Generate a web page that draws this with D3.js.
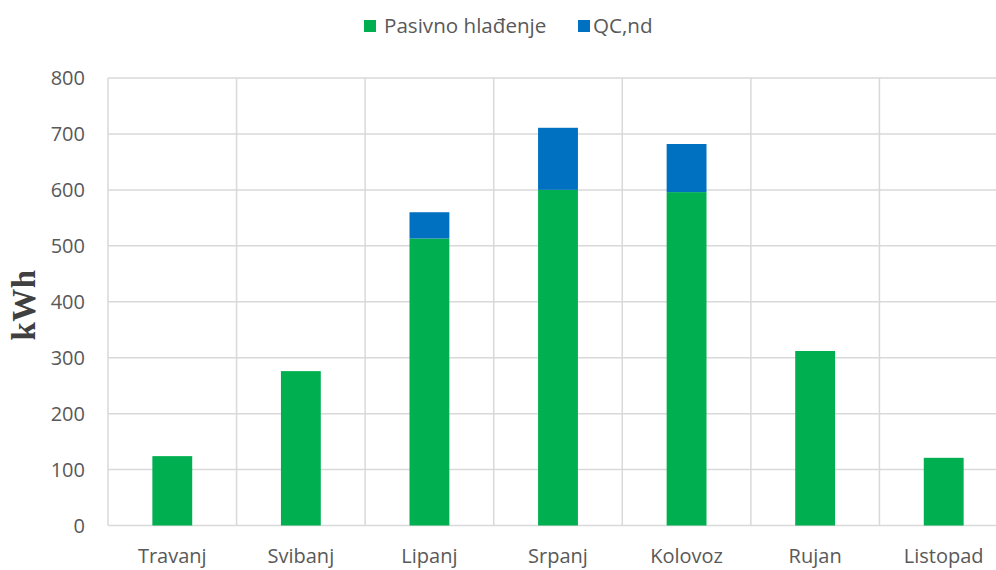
<!DOCTYPE html>
<html>
<head>
<meta charset="utf-8">
<script src="https://cdn.jsdelivr.net/npm/d3@7"></script>
<style>
  html, body { margin: 0; padding: 0; background: #fff; overflow: hidden; }
  svg { display: block; }
</style>
</head>
<body>
<svg id="chart" width="996" height="570"></svg>
<script>
const categories = ["Travanj", "Svibanj", "Lipanj", "Srpanj", "Kolovoz", "Rujan", "Listopad"];
const seriesNames = ["Pasivno hlađenje", "QC,nd"];
const pasivno = [124, 276, 513, 600, 596, 312, 121];
const qcnd = [0, 0, 47, 111, 86, 0, 0];
const yTicks = [0, 100, 200, 300, 400, 500, 600, 700, 800];
const colors = ["#00B050", "#0070C0"];
const yTitle = "kWh";

(function () {
const svg = d3.select("#chart");
const pLeft = 108, pRight = 1008, pTop = 78, pBottom = 525.5;

const x = d3.scaleBand().domain(categories).range([pLeft, pRight]).paddingInner(0.69).paddingOuter(0.345);
const xCat = d3.scaleBand().domain(categories).range([pLeft, pRight]).padding(0);
const y = d3.scaleLinear().domain([0, 800]).range([pBottom, pTop]);

const grid = "#d9d9d9";

// horizontal gridlines
svg.append("g").selectAll("line").data(yTicks).join("line")
  .attr("x1", pLeft).attr("x2", pRight)
  .attr("y1", d => y(d)).attr("y2", d => y(d))
  .attr("stroke", grid).attr("stroke-width", 1.5);

// vertical gridlines at category boundaries
const bounds = categories.map(c => xCat(c)).concat([xCat(categories[categories.length - 1]) + xCat.bandwidth()]);
svg.append("g").selectAll("line").data(bounds).join("line")
  .attr("x1", d => d).attr("x2", d => d)
  .attr("y1", pTop).attr("y2", pBottom)
  .attr("stroke", grid).attr("stroke-width", 1.5);

// stacked bars
const rows = categories.map((c, i) => ({ cat: c, p: pasivno[i], q: qcnd[i] }));
const stack = d3.stack().keys(["p", "q"])(rows);
svg.append("g").selectAll("g").data(stack).join("g")
  .attr("fill", (d, i) => colors[i])
  .selectAll("rect").data(d => d.filter(s => s[1] - s[0] > 0)).join("rect")
  .attr("x", d => x(d.data.cat))
  .attr("width", x.bandwidth())
  .attr("y", d => y(d[1]))
  .attr("height", d => y(d[0]) - y(d[1]));

// y tick labels
const font = "'Open Sans', sans-serif";
svg.append("g").selectAll("text").data(yTicks).join("text")
  .attr("x", 85).attr("y", d => y(d)).attr("dy", "0.35em")
  .attr("text-anchor", "end")
  .attr("font-family", font).attr("font-size", 20).attr("fill", "#595959")
  .text(d => d);

// x labels
svg.append("g").selectAll("text").data(categories).join("text")
  .attr("x", d => xCat(d) + xCat.bandwidth() / 2).attr("y", 556).attr("dy", "0.35em")
  .attr("text-anchor", "middle")
  .attr("font-family", font).attr("font-size", 20).attr("fill", "#595959")
  .text(d => d);

// y axis title
svg.append("text")
  .attr("transform", "translate(35,305) rotate(-90)")
  .attr("text-anchor", "middle")
  .attr("font-family", "'Liberation Serif', 'Times New Roman', serif")
  .attr("font-weight", "bold").attr("font-size", 33).attr("fill", "#404040")
  .attr("letter-spacing", 0.5)
  .text(yTitle);

// legend
const legendItems = [
  { name: seriesNames[0], color: colors[0], sx: 364, tx: 384 },
  { name: seriesNames[1], color: colors[1], sx: 578, tx: 593 }
];
const lg = svg.append("g");
lg.selectAll("rect").data(legendItems).join("rect")
  .attr("x", d => d.sx).attr("y", 20).attr("width", 12).attr("height", 12)
  .attr("fill", d => d.color);
lg.selectAll("text").data(legendItems).join("text")
  .attr("x", d => d.tx).attr("y", 26).attr("dy", "0.35em")
  .attr("font-family", font).attr("font-size", 20.6).attr("fill", "#595959")
  .text(d => d.name);
})();
</script>
</body>
</html>
